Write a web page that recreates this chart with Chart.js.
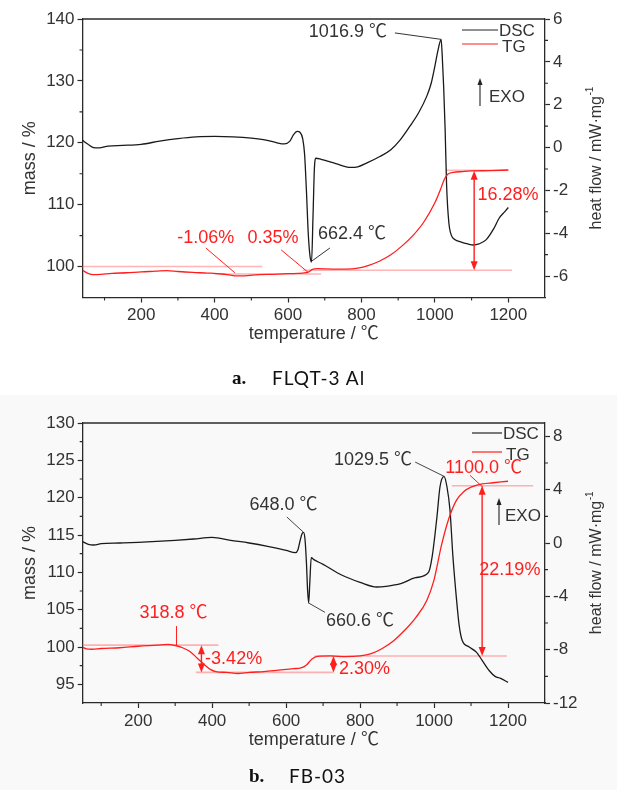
<!DOCTYPE html>
<html><head><meta charset="utf-8">
<script src="https://cdn.jsdelivr.net/npm/chart.js@4.4.1/dist/chart.umd.min.js"></script>
<style>
html,body{margin:0;padding:0;width:617px;height:790px;overflow:hidden;background:#fff;}
#wa{position:absolute;left:0;top:0;width:617px;height:395px;background:#fff}
#wb{position:absolute;left:0;top:395px;width:617px;height:395px;background:#f9f9f9}
canvas{display:block}
.cap{position:absolute;font-size:19px;line-height:20px;color:#111;white-space:nowrap}
.cb{font-family:"Liberation Serif","DejaVu Serif",serif;font-weight:bold}
.cn{font-family:Lato,"Open Sans",sans-serif;letter-spacing:1px}
</style></head><body>
<div id="wa"><canvas id="ca" width="617" height="395"></canvas></div>
<div id="wb"><canvas id="cb" width="617" height="395"></canvas></div>
<div class="cap cb" style="top:368px;left:232px">a.</div>
<div class="cap cn" style="top:368px;left:272px">FLQT-3 Al</div>
<div class="cap cb" style="top:766px;left:249px">b.</div>
<div class="cap cn" style="top:766px;left:289px">FB-03</div>
<script>
// ---------- data: panel a (FLQT-3 Al) ----------
const dscTempA = [40,55,70,85,110,150,200,250,300,350,400,450,500,540,570,590,605,615,625,633,640,645,650,655,660,664,668,672,676,690,710,730,770,790,815,850,880,905,932,955,978,990,1000,1008,1017,1020,1024,1028,1032,1038,1045,1055,1070,1090,1105,1120,1140,1160,1175,1190,1200];
const dscA = [0.34,0.15,0.0,-0.02,0.07,0.1,0.15,0.3,0.42,0.5,0.52,0.5,0.44,0.35,0.22,0.17,0.3,0.6,0.75,0.7,0.4,-0.3,-2.0,-4.0,-5.1,-5.35,-3.2,-0.9,-0.5,-0.55,-0.65,-0.75,-0.93,-0.9,-0.72,-0.42,-0.1,0.35,1.0,1.6,2.4,3.0,3.8,4.5,5.05,4.3,2.8,0.8,-1.8,-3.5,-4.1,-4.3,-4.4,-4.5,-4.55,-4.5,-4.3,-3.8,-3.3,-3.0,-2.8];
const tgTempA = [40,55,70,90,120,160,200,240,270,300,340,380,420,450,480,520,560,600,640,655,665,680,720,760,790,820,850,880,910,940,970,1000,1015,1025,1035,1050,1075,1100,1150,1200];
const tgA = [99.4,98.9,98.7,98.75,98.9,99.0,99.15,99.25,99.35,99.2,99.05,98.95,98.8,98.55,98.5,98.7,98.75,98.85,98.95,99.1,99.5,99.65,99.6,99.6,99.75,100.2,100.9,101.9,103.3,105.0,107.2,110.3,112.4,114.0,114.9,115.2,115.35,115.45,115.5,115.6];
// ---------- data: panel b (FB-03) ----------
const dscTempB = [50,65,80,100,150,200,250,300,350,400,450,500,550,600,625,632,638,643,647,651,655,658,661,664,668,675,700,750,800,845,870,910,950,985,995,1008,1016,1027,1035,1043,1051,1061,1068,1076,1095,1115,1130,1150,1165,1180,1200];
const dscB = [0.1,-0.1,-0.15,-0.05,0.0,0.05,0.12,0.2,0.3,0.42,0.2,0.0,-0.25,-0.55,-0.72,-0.5,0.2,0.7,0.8,0.3,-1.5,-3.5,-4.5,-3.0,-1.1,-1.25,-1.6,-2.4,-2.95,-3.3,-3.25,-3.05,-2.6,-2.2,-1.0,2.0,4.2,5.0,4.2,2.5,-1.0,-4.3,-6.2,-7.3,-7.8,-8.2,-8.8,-9.6,-10.0,-10.15,-10.45];
const tgTempB = [50,60,75,100,150,200,250,280,300,320,340,360,380,395,410,440,470,500,540,580,620,640,655,670,685,720,760,800,830,860,890,920,950,980,1000,1020,1040,1060,1080,1100,1130,1160,1200];
const tgB = [99.95,99.75,99.7,99.8,99.9,100.1,100.25,100.35,100.2,99.9,99.4,98.5,97.6,97.0,96.7,96.6,96.45,96.6,96.7,96.9,97.1,97.2,97.6,98.4,98.75,98.8,98.7,98.8,99.1,99.8,100.8,102.2,103.9,106.2,109.0,113.6,117.2,119.6,120.8,121.4,121.85,122.0,122.2];
// ---------- tick labels ----------
const xTicks = [200,400,600,800,1000,1200];
const xMinor = [100,300,500,700,900,1100];
const massTicksA = [100,110,120,130,140];
const massMinorA = [105,115,125,135];
const heatTicksA = [-6,-4,-2,0,2,4,6];
const heatMinorA = [-5,-3,-1,1,3,5];
const massTicksB = [95,100,105,110,115,120,125,130];
const massMinorB = [97.5,102.5,107.5,112.5,117.5,122.5,127.5];
const heatTicksB = [-12,-8,-4,0,4,8];
const heatMinorB = [-10,-6,-2,2,6];

const FONT = '"Liberation Sans", Arial, "Noto Sans CJK SC", sans-serif';
const INK = '#2a2a2a';
const RED = '#ff1e1e';

// annotation specs (data coordinates)
const annA = {
  refLines: [[40,530,100.0],[400,690,98.8],[640,1210,99.4],[1030,1200,115.55]],
  arrows: [[1107,115.5,99.4]],
  pointers: [
    {a:'y1', p:[[891,5.35],[1017,5.05]], c:'#333'},
    {a:'y', p:[[376,103.0],[455,99.0]], c:RED},
    {a:'y', p:[[581,102.7],[654,99.1]], c:RED},
    {a:'y', p:[[665,100.9],[714,103.0]], c:'#333'}
  ],
  labels: [
    {t:'1016.9 \u2103', x:763, y:5.39, a:'y1', c:'#333', al:'center'},
    {t:'-1.06%', x:376, y:104.6, a:'y', c:RED, al:'center'},
    {t:'0.35%', x:559, y:104.6, a:'y', c:RED, al:'center'},
    {t:'662.4 \u2103', x:774, y:105.3, a:'y', c:'#333', al:'center'},
    {t:'16.28%', x:1199, y:111.55, a:'y', c:RED, al:'center'}
  ]
};
const annB = {
  refLines: [[50,417,100.25],[356,728,96.6],[677,1197,98.8],[1048,1268,121.6]],
  arrows: [[371,100.25,96.6],[728,98.8,96.6],[1130,121.6,98.8]],
  pointers: [
    {a:'y1', p:[[602,1.95],[646,0.83]], c:'#444'},
    {a:'y1', p:[[661,-4.5],[705,-5.2]], c:'#444'},
    {a:'y1', p:[[949,6.07],[1027,5.0]], c:'#444'},
    {a:'y', p:[[1097,123.0],[1132,121.4]], c:RED},
    {a:'y', p:[[303.6,102.8],[303.6,100.15]], c:RED}
  ],
  labels: [
    {t:'648.0 \u2103', x:593, y:2.85, a:'y1', c:'#333', al:'center'},
    {t:'660.6 \u2103', x:800, y:-5.85, a:'y1', c:'#333', al:'center'},
    {t:'1029.5 \u2103', x:835, y:6.2, a:'y1', c:'#333', al:'center'},
    {t:'1100.0 \u2103', x:1134, y:123.97, a:'y', c:RED, al:'center'},
    {t:'318.8 \u2103', x:295.5, y:104.55, a:'y', c:RED, al:'center'},
    {t:'-3.42%', x:381, y:98.45, a:'y', c:RED, al:'left'},
    {t:'2.30%', x:743, y:97.0, a:'y', c:RED, al:'left'},
    {t:'22.19%', x:1205, y:110.3, a:'y', c:RED, al:'center'}
  ]
};

function head(c, x, y, dir){ // dir -1: pointing up, 1: pointing down
  c.beginPath(); c.moveTo(x, y); c.lineTo(x-3.5, y - dir*9); c.lineTo(x+3.5, y - dir*9); c.closePath(); c.fill();
}

function annotPlugin(P, A){
  return {
    id: 'annot' + P.id,
    beforeDatasetsDraw(chart){
      const c = chart.ctx, X = chart.scales.x, Y = chart.scales.y;
      c.save(); c.strokeStyle = 'rgba(255,120,120,0.55)'; c.lineWidth = 1.6;
      A.refLines.forEach(([t0,t1,m]) => {
        const y = Y.getPixelForValue(m);
        c.beginPath(); c.moveTo(X.getPixelForValue(t0), y); c.lineTo(X.getPixelForValue(t1), y); c.stroke();
      });
      c.restore();
    },
    afterDatasetsDraw(chart){
      const c = chart.ctx, X = chart.scales.x;
      c.save();
      A.pointers.forEach(pt => {
        const S = chart.scales[pt.a];
        c.strokeStyle = pt.c; c.lineWidth = 1;
        c.beginPath();
        pt.p.forEach(([t,v],i) => { const x = X.getPixelForValue(t), y = S.getPixelForValue(v); i ? c.lineTo(x,y) : c.moveTo(x,y); });
        c.stroke();
      });
      const Y = chart.scales.y;
      c.strokeStyle = RED; c.fillStyle = RED; c.lineWidth = 1.4;
      A.arrows.forEach(([t,m0,m1]) => {
        const x = X.getPixelForValue(t), yA = Y.getPixelForValue(Math.max(m0,m1)), yB = Y.getPixelForValue(Math.min(m0,m1));
        c.beginPath(); c.moveTo(x, yA + 6); c.lineTo(x, yB - 6); c.stroke();
        head(c, x, yA, -1); head(c, x, yB, 1);
      });
      c.font = '18px ' + FONT; c.textBaseline = 'middle';
      A.labels.forEach(l => {
        const S = chart.scales[l.a];
        c.fillStyle = l.c; c.textAlign = l.al;
        c.fillText(l.t, X.getPixelForValue(l.x), S.getPixelForValue(l.y));
      });
      c.restore();
    },
    afterDraw(chart){
      const c = chart.ctx, ca = chart.chartArea, S = chart.scales;
      c.save();
      c.strokeStyle = INK; c.lineWidth = 1.3;
      c.beginPath(); c.moveTo(ca.left, ca.top); c.lineTo(ca.right, ca.top); c.stroke();
      c.lineWidth = 1.1;
      c.beginPath();
      xMinor.forEach(v => { const x = S.x.getPixelForValue(v); c.moveTo(x, ca.bottom); c.lineTo(x, ca.bottom + 3); });
      P.massMinor.forEach(v => { const y = S.y.getPixelForValue(v); c.moveTo(ca.left, y); c.lineTo(ca.left - 3, y); });
      P.heatMinor.forEach(v => { const y = S.y1.getPixelForValue(v); c.moveTo(ca.right, y); c.lineTo(ca.right + 3, y); });
      c.stroke();
      c.fillStyle = '#333'; c.textBaseline = 'middle';
      c.font = '18px ' + FONT; c.textAlign = 'center';
      c.fillText('temperature / \u2103', (ca.left + ca.right) / 2, ca.bottom + 37);
      const cy = (ca.top + ca.bottom) / 2;
      c.save(); c.translate(30, cy); c.rotate(-Math.PI / 2); c.font = '18px ' + FONT; c.fillText('mass / %', 0, 0); c.restore();
      c.save(); c.translate(597, cy); c.rotate(-Math.PI / 2);
      c.font = '16px ' + FONT;
      const main = 'heat flow / mW\u00b7mg';
      const wm = c.measureText(main).width;
      c.font = '10px ' + FONT;
      const ws = c.measureText('-1').width;
      const x0 = -(wm + ws) / 2;
      c.textAlign = 'left';
      c.font = '16px ' + FONT; c.fillText(main, x0, 0);
      c.font = '10px ' + FONT; c.fillText('-1', x0 + wm + 0.5, -7);
      c.restore();
      const L = P.legend;
      c.lineWidth = 1.2;
      c.strokeStyle = '#222';
      c.beginPath(); c.moveTo(ca.right - L.lx0, ca.top + L.dy); c.lineTo(ca.right - L.lx1, ca.top + L.dy); c.stroke();
      c.strokeStyle = RED;
      c.beginPath(); c.moveTo(ca.right - L.lx0, ca.top + L.ty); c.lineTo(ca.right - L.lx1, ca.top + L.ty); c.stroke();
      c.fillStyle = '#333'; c.font = '17px ' + FONT; c.textAlign = 'left';
      c.fillText('DSC', ca.right - L.lx1 + 1, ca.top + L.dy + 1);
      c.fillText('TG', ca.right - L.lx1 + 4, ca.top + L.ty + 3);
      const E = P.exo;
      c.strokeStyle = '#222'; c.fillStyle = '#222'; c.lineWidth = 1.1;
      c.beginPath(); c.moveTo(ca.right - E.ax, ca.top + E.y1); c.lineTo(ca.right - E.ax, ca.top + E.y0 + 4); c.stroke();
      c.beginPath(); c.moveTo(ca.right - E.ax, ca.top + E.y0); c.lineTo(ca.right - E.ax - 2.5, ca.top + E.y0 + 7); c.lineTo(ca.right - E.ax + 2.5, ca.top + E.y0 + 7); c.closePath(); c.fill();
      c.fillStyle = '#333';
      c.fillText('EXO', ca.right - E.tx, ca.top + E.ty);
      c.restore();
    }
  };
}

function axisCommon(){
  return {
    grid: {drawOnChartArea:false, drawTicks:true, tickLength:5, color:INK, tickColor:INK, tickWidth:1.2},
    border: {display:true, color:INK, width:1.3},
    ticks: {font:{family:FONT, size:17}, color:'#333', padding:3, maxRotation:0, autoSkip:false, callback: v => String(v)}
  };
}

function build(canvasId, P, A){
  const xs = axisCommon(), ys = axisCommon(), y1s = axisCommon();
  return new Chart(document.getElementById(canvasId), {
    type: 'line',
    data: { datasets: [
      { label:'TG', data: P.tgT.map((t,i) => ({x:t, y:P.tg[i]})), yAxisID:'y', borderColor:RED, borderWidth:1.3, pointRadius:0, cubicInterpolationMode:'monotone', fill:false },
      { label:'DSC', data: P.dscT.map((t,i) => ({x:t, y:P.dsc[i]})), yAxisID:'y1', borderColor:'#1a1a1a', borderWidth:1.3, pointRadius:0, cubicInterpolationMode:'monotone', fill:false }
    ]},
    options: {
      responsive:false, animation:false, events:[],
      layout: {padding:{top:P.top, left:0, right:0, bottom:0}},
      plugins: {legend:{display:false}, tooltip:{enabled:false}},
      scales: {
        x: Object.assign(xs, {type:'linear', min:P.xmin, max:1300,
          afterBuildTicks: s => { s.ticks = xTicks.map(v => ({value:v})); },
          afterFit: s => { s.height = P.xh; }}),
        y: Object.assign(ys, {type:'linear', position:'left', min:P.mmin, max:P.mmax,
          afterBuildTicks: s => { s.ticks = P.massTicks.map(v => ({value:v})); },
          afterFit: s => { s.width = P.lw; }}),
        y1: Object.assign(y1s, {type:'linear', position:'right', min:P.hmin, max:P.hmax,
          afterBuildTicks: s => { s.ticks = P.heatTicks.map(v => ({value:v})); },
          afterFit: s => { s.width = 617 - 545; }})
      }
    },
    plugins: [annotPlugin(P, A)]
  });
}

build('ca', {
  id:'a', top:19, xh:395-297.5, lw:82.5, xmin:40, mmin:95, mmax:140, hmin:-7, hmax:6,
  dscT:dscTempA, dsc:dscA, tgT:tgTempA, tg:tgA,
  massTicks:massTicksA, massMinor:massMinorA, heatTicks:heatTicksA, heatMinor:heatMinorA,
  legend:{lx0:83, lx1:47, dy:11, ty:25},
  exo:{ax:65, y0:59, y1:87, tx:56, ty:78}
}, annA);

build('cb', {
  id:'b', top:28, xh:395-308, lw:82.7, xmin:50, mmin:92.5, mmax:130, hmin:-12, hmax:9,
  dscT:dscTempB, dsc:dscB, tgT:tgTempB, tg:tgB,
  massTicks:massTicksB, massMinor:massMinorB, heatTicks:heatTicksB, heatMinor:heatMinorB,
  legend:{lx0:73, lx1:43, dy:10, ty:29},
  exo:{ax:46, y0:75, y1:102, tx:40, ty:93}
}, annB);
</script>
</body></html>
